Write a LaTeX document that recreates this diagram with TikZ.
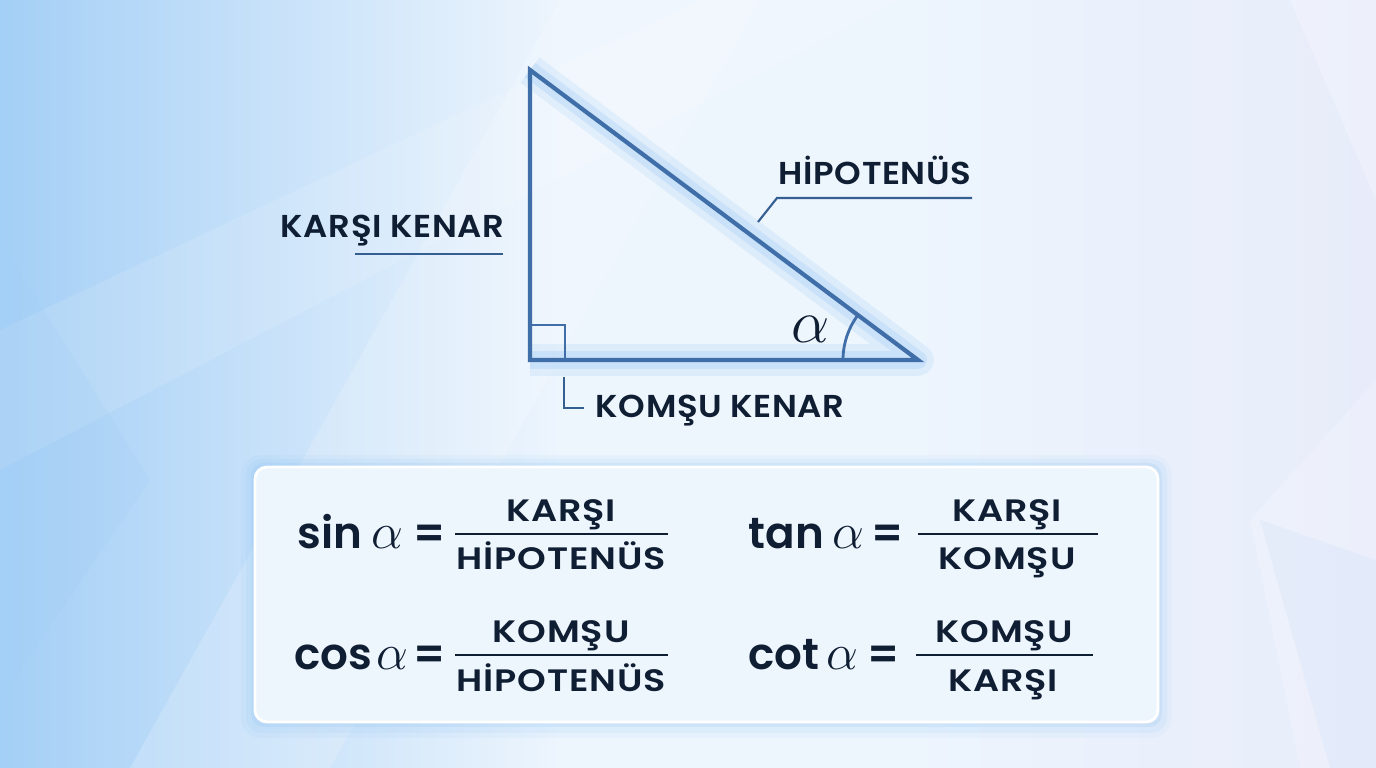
\documentclass[tikz,border=0pt]{standalone}
\usepackage{fontspec}
\setmainfont{Poppins}[BoldFont={* SemiBold}]
\newfontfamily\sidefont{Poppins SemiBold}[FakeStretch=1.07, LetterSpace=2]
\newfontfamily\fracfont{Poppins SemiBold}[FakeStretch=1.18, LetterSpace=3]
\usepackage{tikz}
\usetikzlibrary{calc}
\definecolor{navy}{HTML}{0F1E33}
\definecolor{edgeblue}{HTML}{3F6EA8}
\definecolor{bgleft}{HTML}{A4CFF6}
\definecolor{bgmid}{HTML}{EDF5FD}
\definecolor{bgright}{HTML}{E8ECFA}
\definecolor{glowblue}{HTML}{6FB2F0}
\definecolor{boxfill}{HTML}{EDF5FD}
\def\drawedge{\draw[color=edgeblue, line width=1.2pt, line join=miter]}
\def\drawleader{\draw[color=edgeblue!80!navy, line width=0.6pt]}
\def\drawbar{\draw[color=navy, line width=0.6pt]}
\def\sidenode{\node[inner sep=0, text=navy, font=\fontsize{9}{10}\sidefont]}
\def\lhsnode{\node[inner sep=0, anchor=base west, text=navy, font=\fontsize{12.4}{14}\selectfont\bfseries]}
\def\fracnode{\node[inner sep=0, anchor=base, text=navy, font=\fontsize{8.8}{10}\fracfont]}
\newcommand{\galpha}{{\fontsize{13.5}{14}\selectfont$\alpha$}}

\begin{document}
\begin{tikzpicture}[x=0.01cm,y=-0.01cm]
\useasboundingbox (0,0) rectangle (1376,768);
% background
\fill[bgmid] (0,0) rectangle (1376,768);
\shade[left color=bgleft, right color=bgmid] (0,0) rectangle (560,768);
\shade[left color=bgmid, right color=bgright] (900,0) rectangle (1376,768);
\fill[white, opacity=0.18] (130,768) -- (560,0) -- (760,0) -- (330,768) -- cycle;
\fill[white, opacity=0.12] (0,330) -- (700,0) -- (900,0) -- (0,470) -- cycle;
\fill[bgleft, opacity=0.25] (0,240) -- (150,480) -- (0,700) -- cycle;
\fill[white, opacity=0.25] (1290,0) -- (1376,0) -- (1376,200) -- cycle;
\fill[white, opacity=0.2] (1250,520) -- (1376,380) -- (1376,768) -- (1300,768) -- cycle;
\fill[bgleft, opacity=0.12] (1260,520) -- (1376,560) -- (1376,768) -- (1330,768) -- cycle;

% triangle
\coordinate (top) at (530,70);
\coordinate (corner) at (530,360);
\coordinate (tip) at (918,360);
\draw[glowblue, line width=9pt, opacity=0.12, line join=round] (top) -- (tip) -- (corner);
\draw[glowblue, line width=5pt, opacity=0.18, line join=round] (top) -- (tip) -- (corner);
\drawedge (top) -- (corner) -- (tip) -- cycle;
\draw[edgeblue, line width=0.8pt] ($(corner)+(0,-35)$) -| ($(corner)+(35,0)$);
\draw[edgeblue, line width=0.8pt] ($(tip)+(-75,0)$) arc[start angle=180, end angle=216.8, radius=75];
\node[inner sep=0, anchor=base, text=navy] (alpha) at (811,343) {{\fontsize{16}{18}\selectfont$\alpha$}};

% side labels
\sidenode[anchor=base west] (hipo) at (778,185) {HİPOTENÜS};
\sidenode[anchor=base west] (karsi) at (280,238) {KARŞI KENAR};
\sidenode[anchor=base west] (komsu) at (595,418) {KOMŞU KENAR};
\coordinate (hipoa) at (758,222);
\coordinate (hipob) at (777,198);
\coordinate (hipoc) at (972,198);
\drawleader (hipoa) -- (hipob) -- (hipoc);
\coordinate (karsia) at (355,254);
\coordinate (karsib) at (503,254);
\drawleader (karsia) -- (karsib);
\coordinate (komsua) at (564,377);
\coordinate (komsub) at (584,408);
\drawleader (komsua) |- (komsub);

% formula box
\fill[glowblue, opacity=0.06, rounded corners=0.2cm] (241,455) rectangle (1172,738);
\fill[glowblue, opacity=0.08, rounded corners=0.16cm] (246,459) rectangle (1167,733);
\fill[glowblue, opacity=0.12, rounded corners=0.13cm] (251,463) rectangle (1162,727);
\draw[white, fill=boxfill, line width=0.8pt, rounded corners=0.12cm] (255,467) rectangle (1158,722);

% sin
\lhsnode (sin) at (297,549) {sin\hspace{2.5pt}\galpha\hspace{3pt}=};
\drawbar (455,534) -- (668,534);
\fracnode (sinnum) at (561,522) {KARŞI};
\fracnode (sinden) at (561,570) {HİPOTENÜS};
% tan
\lhsnode (tan) at (748,549) {tan\hspace{2.5pt}\galpha\hspace{2pt}=};
\drawbar (918,534) -- (1098,534);
\fracnode (tannum) at (1007,522) {KARŞI};
\fracnode (tanden) at (1007,570) {KOMŞU};
% cos
\lhsnode (cos) at (294,670) {cos\hspace{1pt}\galpha\hspace{1.5pt}=};
\drawbar (455,655) -- (668,655);
\fracnode (cosnum) at (561,643) {KOMŞU};
\fracnode (cosden) at (561,692) {HİPOTENÜS};
% cot
\lhsnode (cot) at (748,670) {cot\hspace{2pt}\galpha\hspace{2.5pt}=};
\drawbar (916,655) -- (1093,655);
\fracnode (cotnum) at (1004,643) {KOMŞU};
\fracnode (cotden) at (1003,692) {KARŞI};
\end{tikzpicture}
\end{document}
